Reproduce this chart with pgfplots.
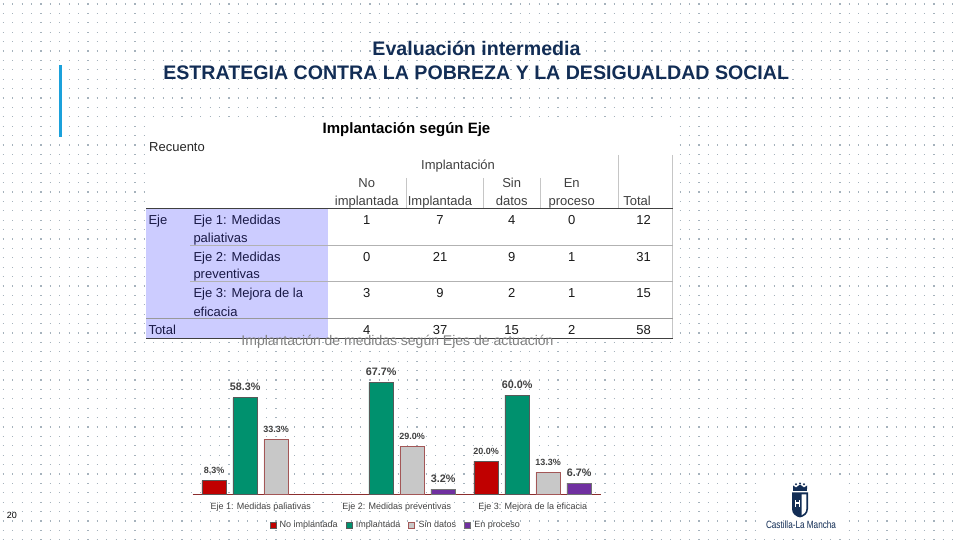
\documentclass[border=0pt]{standalone}
\usepackage{fontspec}
\setmainfont{Liberation Sans}
\usepackage{pgfplots}
\pgfplotsset{compat=1.18}
\usepackage{graphicx}

\definecolor{navy}{RGB}{18,45,85}
\definecolor{lblue}{RGB}{27,161,219}
\definecolor{dotc}{RGB}{165,178,188}
\definecolor{lav}{RGB}{204,204,255}
\definecolor{rowtxt}{RGB}{25,25,70}
\definecolor{cred}{RGB}{192,0,0}
\definecolor{cgreen}{RGB}{0,145,110}
\definecolor{cgray}{RGB}{200,200,200}
\definecolor{cpurple}{RGB}{112,48,160}
\definecolor{axred}{RGB}{140,45,45}
\definecolor{lblgray}{RGB}{64,64,64}
\definecolor{ttlgray}{RGB}{128,128,128}

\newcommand\fs[1]{\fontsize{#1bp}{#1bp}\selectfont}
\newcommand\Lg{\fs{10.8}}
\newcommand\Sm{\fs{9}}

\begin{document}
\begin{tikzpicture}[x=1bp,y=1bp]
\fill[white] (0,0) rectangle (960,540);
\begin{scope}[shift={(0,540)},yscale=-1, every node/.style={inner sep=0pt}]
 % dotted background
 \foreach \k in {0,...,57} {
   \draw[dotc, line width=1.2bp, dash pattern=on 1.2bp off 8.2bp] (2.7,{4.1+9.4*\k}) -- (960,{4.1+9.4*\k});
 }
 % titles
 \fill[lblue] (58.5,65) rectangle (61.5,137);
 \node[anchor=base, text=navy] at (476.5,56) {\fs{19.6}\bfseries Evaluación intermedia};
 \node[anchor=base, text=navy] at (476.2,80) {\fs{19.6}\bfseries ESTRATEGIA CONTRA LA POBREZA Y LA DESIGUALDAD SOCIAL};
 % table
 \fill[white] (145,118) rectangle (673,339);
 \fill[lav] (146,208.3) rectangle (328,338.5);
 \draw[gray!45, line width=0.6bp] (672.5,155) -- (672.5,338);
 \draw[gray!45, line width=0.6bp] (618,155) -- (618,208);
 \draw[gray!45, line width=0.6bp] (406,178) -- (406,208);
 \draw[gray!45, line width=0.6bp] (483,178) -- (483,208);
 \draw[gray!45, line width=0.6bp] (540,178) -- (540,208);
 \draw[black!75, line width=0.9bp] (146,208.3) -- (672.5,208.3);
 \draw[gray!60, line width=0.6bp] (190,245) -- (672.5,245);
 \draw[gray!60, line width=0.6bp] (190,281.7) -- (672.5,281.7);
 \draw[gray!80, line width=0.8bp] (146,318.3) -- (672.5,318.3);
 \draw[black!75, line width=0.9bp] (146,338.8) -- (672.5,338.8);
 \node[anchor=base, text=black] at (406.5,133.4) {\fs{15}\bfseries Implantación según Eje};
 \node[anchor=base west, text=black!85] at (149,151.5) {\fs{13}Recuento};
 \begin{scope}[every node/.append style={text=black!75, font=\fs{13}}]
  \node[anchor=base] at (458,169.5) {Implantación};
  \node[anchor=base] at (366.7,187.2) {No};
  \node[anchor=base] at (366.7,205.2) {implantada};
  \node[anchor=base] at (440,205.2) {Implantada};
  \node[anchor=base] at (511.7,187.2) {Sin};
  \node[anchor=base] at (511.7,205.2) {datos};
  \node[anchor=base] at (571.7,187.2) {En};
  \node[anchor=base] at (571.7,205.2) {proceso};
  \node[anchor=base east] at (651,205.2) {Total};
 \end{scope}
 \begin{scope}[every node/.append style={text=rowtxt, font=\fs{13}, anchor=base west}]
  \node at (148.3,224.5) {Eje};
  \node at (193.3,224.5) {Eje 1: Medidas};
  \node at (193.3,242.2) {paliativas};
  \node at (193.3,261.2) {Eje 2: Medidas};
  \node at (193.3,278.8) {preventivas};
  \node at (193.3,297.8) {Eje 3: Mejora de la};
  \node at (193.3,316.2) {eficacia};
  \node at (148.3,334.5) {Total};
 \end{scope}
 \begin{scope}[every node/.append style={text=black!90, font=\fs{13}, anchor=base}]
  \foreach \a/\b/\c/\d/\e/\yy in {1/7/4/0/12/224.5, 0/21/9/1/31/261.2, 3/9/2/1/15/297.8, 4/37/15/2/58/334.5} {
   \node at (366.7,\yy) {\a};
   \node at (440,\yy) {\b};
   \node at (511.7,\yy) {\c};
   \node at (571.7,\yy) {\d};
   \node[anchor=base east] at (651,\yy) {\e};
  }
 \end{scope}
 % page number
 \node[anchor=base, text=black] at (12,518.7) {\fs{9}20};
 % logo
 \fill[white] (762,476) rectangle (842,536);
 \fill[navy] (793,489) rectangle (807,491.5);
 \fill[navy] (793,489) -- (793,485.5) -- (796,487.5) -- (800,484.5) -- (804,487.5) -- (807,485.5) -- (807,489) -- cycle;
 \fill[navy] (796,484.2) circle (1.1);
 \fill[navy] (800,483.4) circle (1.1);
 \fill[navy] (804,484.2) circle (1.1);
 \fill[navy] (792,492.5) -- (808,492.5) -- (808,509) .. controls (808,514) and (804,516.5) .. (800,517.5) .. controls (796,516.5) and (792,514) .. (792,509) -- cycle;
 \fill[white] (801.5,494.5) -- (806.3,494.5) -- (806.3,508.5) .. controls (806.3,512.5) and (803.5,514.5) .. (801.5,515.3) -- cycle;
 \fill[white] (795,500) rectangle (796.3,507);
 \fill[white] (798.7,500) rectangle (800,507);
 \fill[white] (796.3,502.5) rectangle (798.7,504);
 \node[anchor=base, text=navy] at (801,529) {\resizebox{70bp}{\height}{\fs{10.5}Castilla-La Mancha}};
\end{scope}

\begin{axis}[
  at={(192.7bp,45.7bp)}, anchor=south west,
  scale only axis, width=408bp, height=132.3bp,
  xmin=-0.5, xmax=2.5, ymin=0, ymax=80,
  ybar=6.5bp, bar width=24.5bp,
  axis y line=none,
  axis x line*=bottom,
  x axis line style={draw=axred, line width=1.1bp, -},
  xtick={0,1,2},
  xticklabels={Eje 1: Medidas paliativas, Eje 2: Medidas preventivas, Eje 3: Mejora de la eficacia},
  major tick length=0pt,
  xticklabel style={font=\fs{9}, text=lblgray, inner sep=0pt, yshift=-8bp},
  clip=false,
  point meta=explicit symbolic,
  nodes near coords={\pgfplotspointmeta},
  every node near coord/.append style={anchor=base, yshift=7bp, inner sep=0pt, font=\bfseries, text=lblgray},
  legend style={at={(0.4975,-0.232)}, anchor=center, draw=none, fill=none, legend columns=4,
    font=\fs{9}, text=lblgray, inner sep=0pt,
    /tikz/every odd column/.append style={column sep=1.5bp},
    /tikz/every even column/.append style={column sep=6bp}},
  legend image code/.code={\draw[#1, line width=0.7bp] (0bp,-3bp) rectangle (6bp,3bp);},
]
\addplot[fill=cred, draw=black!65, line width=0.8bp] coordinates {(0,8.3) [\Sm 8.3\%] (2,20.0) [\Sm 20.0\%]};
\addplot[fill=cgreen, draw=black!65, line width=0.8bp] coordinates {(0,58.3) [\Lg 58.3\%] (1,67.7) [\Lg 67.7\%] (2,60.0) [\Lg 60.0\%]};
\addplot[fill=cgray, draw=axred!80, line width=0.8bp] coordinates {(0,33.3) [\Sm 33.3\%] (1,29.0) [\Sm 29.0\%] (2,13.3) [\Sm 13.3\%]};
\addplot[fill=cpurple, draw=black!55, line width=0.8bp] coordinates {(1,3.2) [\Lg 3.2\%] (2,6.7) [\Lg 6.7\%]};
\legend{No implantada, Implantada, Sin datos, En proceso}
\end{axis}

\node[anchor=base, text=ttlgray, inner sep=0pt] at (397.5,194.5) {\fs{14}Implantación de medidas según Ejes de actuación};
\pgfresetboundingbox
\path[use as bounding box] (0,0) rectangle (960,540);
\end{tikzpicture}
\end{document}
